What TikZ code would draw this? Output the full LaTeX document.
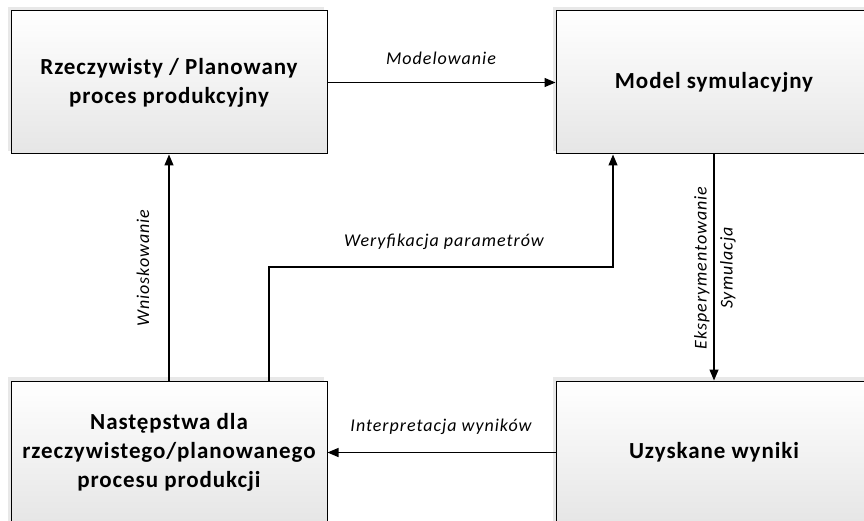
\documentclass[tikz,border=0pt]{standalone}
\usepackage{fontspec}
\setmainfont{Carlito}
\usetikzlibrary{arrows.meta,calc}
\begin{document}
\begin{tikzpicture}[x=1pt,y=-1pt,
  box/.style={draw=black, line width=1pt, top color=white, bottom color=gray!20,
    minimum width=316pt, minimum height=143pt, inner sep=0pt, align=center,
    font=\bfseries\fontsize{23}{29}\selectfont\addfontfeatures{LetterSpace=4}},
  shade/.style={fill=gray!18, draw=none},
  lbl/.style={font=\itshape\fontsize{18}{26}\selectfont\addfontfeatures{LetterSpace=5.5}, inner sep=0pt, align=center},
  conn/.style={line width=1.3pt, -{Triangle[length=11pt,width=9pt]}}]
\useasboundingbox (0,0) rectangle (864,521);
\clip (0,0) rectangle (864,521);
% shadows
\fill[shade] (8,7) rectangle (324,151);
\fill[shade] (553,7) rectangle (869,151);
\fill[shade] (8,377) rectangle (324,521);
\fill[shade] (553,377) rectangle (869,521);
% boxes
\node[box] (A) at (169,82.5) {Rzeczywisty / Planowany\\proces produkcyjny};
\node[box] (B) at (714,82.5) {Model symulacyjny};
\node[box] (C) at (169,452.5) {Następstwa dla\\rzeczywistego/planowanego\\procesu produkcji};
\node[box] (D) at (714,452.5) {Uzyskane wyniki};
% connectors
\draw[conn] (A) -- (B);
\draw[conn] (B.south) -- (D.north);
\draw[conn] (D) -- (C);
\draw[conn] (C.north) -- (A.south);
\coordinate (wk) at (613,267);
\draw[conn] ([xshift=100pt]C.north) |- (wk) -- ([xshift=-101pt]B.south);
% labels
\node[lbl] (l1) at (441,58) {Modelowanie};
\node[lbl] (l2) at (444,242) {Weryfikacja parametrów};
\node[lbl] (l3) at (441,427) {Interpretacja wyników};
\node[lbl, rotate=90] (l4) at (143,268) {Wnioskowanie};
\node[lbl, rotate=90] (l5) at (715,268) {Eksperymentowanie\\Symulacja};
\end{tikzpicture}
\end{document}
